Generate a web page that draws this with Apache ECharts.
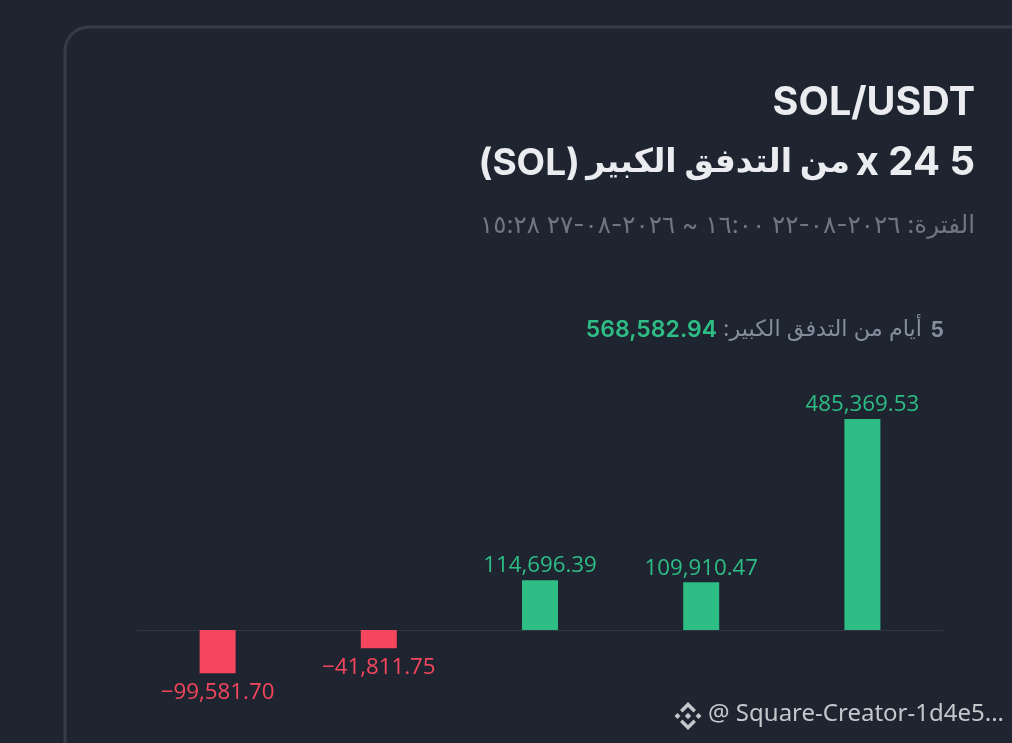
<!DOCTYPE html>
<html dir="ltr"><head><meta charset="utf-8">
<style>html,body{margin:0;padding:0;background:#1e2530}#c{width:1012px;height:743px}</style>
<script src="https://cdn.jsdelivr.net/npm/echarts@6/dist/echarts.min.js"></script></head>
<body><div id="c"></div>
<script>
const categories = ['1','2','3','4','5'];
const flows = [-99581.70, -41811.75, 114696.39, 109910.47, 485369.53];
const pair = 'SOL/USDT';
const headingParts = ['5 24 x', 'من التدفق الكبير', '(SOL)'];
const period = 'الفترة: ٢٠٢٦-٠٨-٢٢ ١٦:٠٠ ~ ٢٠٢٦-٠٨-٢٧ ١٥:٢٨';
const totalDays = '5';
const totalLabel = 'أيام من التدفق الكبير:';
const totalValue = '568,582.94';
const watermark = '@ Square-Creator-1d4e5...';
const UP = '#2ebd85', DOWN = '#f6465d';
const SANS = 'Inter, "Noto Sans", "DejaVu Sans", sans-serif';
const rtl = s => '\u202B' + s + '\u202C';
const fmt = v => v.toLocaleString('en-US',{minimumFractionDigits:2,maximumFractionDigits:2}).replace('-','\u2212');
const chart = echarts.init(document.getElementById('c'));
const t = (right, top, text, size, weight, color) => ({right, top, text, textStyle:{fontFamily:SANS,fontSize:size,fontWeight:weight,color}, padding:0});
chart.setOption({
  backgroundColor:'#1e2530',
  animation:false,
  title:[
    t(37,83,pair,39.5,700,'#eaecef'),
    t(37,143,rtl(headingParts[0]),40,700,'#eaecef'),
    t(162,146,rtl(headingParts[1]),33,700,'#eaecef'),
    t(432,145,rtl(headingParts[2]),37,700,'#eaecef'),
    t(37,213,rtl(period),24.6,400,'#6f7680'),
    t(68,320,totalDays,21,700,'#848e9c'),
    t(90,318,rtl(totalLabel),22.3,400,'#848e9c'),
    t(295,319,totalValue,23,600,UP)
  ],
  grid:{left:137,right:69,top:412.6,bottom:69.5},
  xAxis:{type:'category',data:categories,axisTick:{show:false},axisLabel:{show:false},
    axisLine:{lineStyle:{color:'#2f3640',width:1}}},
  yAxis:{type:'value',min:-100000,max:500000,show:false,splitLine:{show:false}},
  series:[{type:'bar',barWidth:36,data:flows.map(v=>({value:v,
      itemStyle:{color:v>=0?UP:DOWN},
      label:{show:true,position:v>=0?'top':'bottom',distance:v>=0?3:8,color:v>=0?UP:DOWN,fontFamily:'"Open Sans", sans-serif',fontSize:22.3,
        formatter:()=>fmt(v)}}))}],
  graphic:[
    {type:'rect',z:-1,silent:true,shape:{x:65,y:27,width:1000,height:760,r:24},style:{fill:'#1e2530',stroke:'#353c46',lineWidth:3}},
    {type:'text',right:8,top:702,style:{text:watermark,fontFamily:'"Noto Sans", sans-serif',fontSize:24,fill:'#c4c7cc'}},
    {type:'group',x:688,y:716,children:[
      {type:'polygon',shape:{points:[[0,-14],[8,-6],[5.5,-3.5],[0,-9],[-5.5,-3.5],[-8,-6]]},style:{fill:'#c4c7cc'}},
      {type:'polygon',shape:{points:[[0,14],[8,6],[5.5,3.5],[0,9],[-5.5,3.5],[-8,6]]},style:{fill:'#c4c7cc'}},
      {type:'polygon',shape:{points:[[0,-3.2],[3.2,0],[0,3.2],[-3.2,0]]},style:{fill:'#c4c7cc'}},
      {type:'polygon',shape:{points:[[-10.5,-3],[-7.5,0],[-10.5,3],[-13.5,0]]},style:{fill:'#c4c7cc'}},
      {type:'polygon',shape:{points:[[10.5,-3],[13.5,0],[10.5,3],[7.5,0]]},style:{fill:'#c4c7cc'}}
    ]}
  ]
});
</script></body></html>
